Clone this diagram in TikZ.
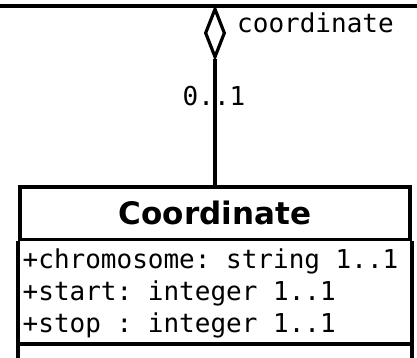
\documentclass[tikz,border=0pt]{standalone}
\usepackage{fontspec}
\setmonofont{DejaVu Sans Mono}
\setsansfont{DejaVu Sans}
\usetikzlibrary{shapes.geometric}
\begin{document}
\begin{tikzpicture}[x=1pt,y=1pt,
  umlline/.style={line width=3.6pt,black},
  agg/.style={diamond,draw,line width=3.2pt,fill=white,inner sep=0pt,minimum width=20pt,minimum height=49pt},
  classhead/.style={draw,line width=3.6pt,minimum width=390pt,minimum height=52.7pt,inner sep=0pt,font=\sffamily\bfseries\fontsize{31}{31}\selectfont},
  attr/.style={anchor=west,inner sep=0pt,font=\ttfamily\fontsize{26}{26}\selectfont},
  lbl/.style={inner sep=0pt,font=\ttfamily\fontsize{26}{26}\selectfont}]
\useasboundingbox (0,0) rectangle (417,-357);
\clip (0,0) rectangle (417,-357);
\coordinate (tl) at (-5,-6);
\coordinate (tr) at (422,-6);
\draw[umlline] (tl) -- (tr);
\node[classhead] (cls) at (215,-213.3) {Coordinate};
\node[agg] (ag) at (215,-33) {};
\draw[umlline] (ag.south) -- (ag.south |- cls.north);
\node[lbl,anchor=west] (rn) at (237,-23) {coordinate};
\node[lbl] (mult) at (214,-96) {0..1};
\draw[umlline] (cls.south west) -- ++(0,-140);
\draw[umlline] (cls.south east) -- ++(0,-140);
\coordinate (sl) at (cls.south west |- 0,-343.7);
\coordinate (sr) at (cls.south east |- 0,-343.7);
\draw[umlline] (sl) -- (sr);
\node[attr] (a1) at (22.5,-261) {+chromosome: string 1..1};
\node[attr] (a2) at (22.5,-293) {+start: integer 1..1};
\node[attr] (a3) at (22.5,-325) {+stop : integer 1..1};
\end{tikzpicture}
\end{document}
